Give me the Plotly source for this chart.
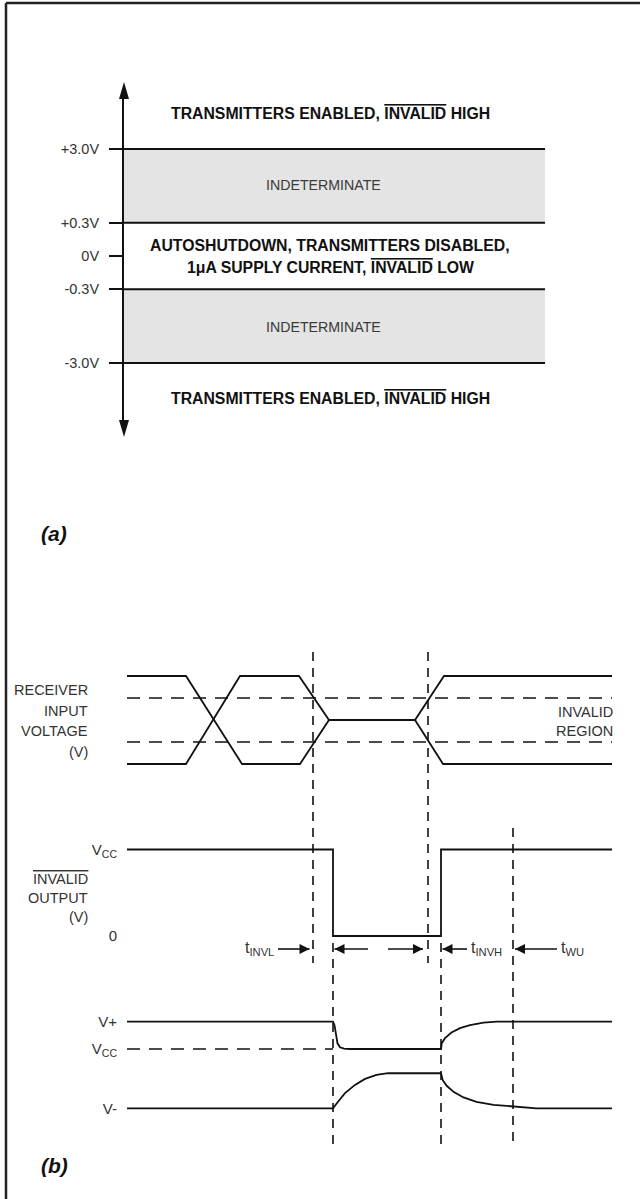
import plotly.graph_objects as go

W, H = 640, 1199

# ---------------- panel (a) data ----------------
threshold_labels = ["+3.0V", "+0.3V", "0V", "-0.3V", "-3.0V"]
threshold_rank = [3, 0.93, 0, -0.93, -3]        # schematic place on the voltage arrow
boundary_rank = [3, 0.93, -0.93, -3]             # drawn boundary lines
indeterminate_bands = [(0.93, 3), (-3, -0.93)]
zone_rank = [4, 2, 0, -2, -4]
OVL = "<span style='text-decoration:overline'>INVALID</span>"
zone_texts = [
    "TRANSMITTERS ENABLED, " + OVL + " HIGH",
    "INDETERMINATE",
    "AUTOSHUTDOWN, TRANSMITTERS DISABLED,<br>1\u03bcA SUPPLY CURRENT, " + OVL + " LOW",
    "INDETERMINATE",
    "TRANSMITTERS ENABLED, " + OVL + " HIGH",
]
zone_bold = [True, False, True, False, True]

# ---------------- panel (b) data ----------------
t_rx_a = [0, 11.8, 23.0, 34.6, 40.4, 57.6, 63.4, 97]
rx_a = [1, 1, -1, -1, 0, 0, 1, 1]
t_rx_b = [0, 11.8, 22.6, 34.4, 40.4, 57.6, 63.2, 97]
rx_b = [-1, -1, 1, 1, 0, 0, -1, -1]
invalid_window = [0.5, -0.5]
rx_label = ["RECEIVER", "INPUT", "VOLTAGE", "(V)"]
region_label = ["INVALID", "REGION"]

t_out = [0, 41.2, 41.2, 62.8, 62.8, 97]
out_level = [1, 1, 0, 0, 1, 1]
out_ticks = [1, 0]
out_ticktext = ["V<sub>CC</sub>", "0"]
out_label = [OVL, "OUTPUT", "(V)"]

t_vplus = [0, 41.2, 41.5, 41.8, 42.1, 42.6, 43.4, 44.4, 62.8, 62.95, 63.6, 64.9,
           66.6, 68.6, 71.3, 73.9, 97]
vplus = [1, 1, 0.92, 0.69, 0.50, 0.41, 0.38, 0.37, 0.37, 0.50, 0.62, 0.75,
         0.85, 0.92, 0.98, 1, 1]
t_vminus = [0, 41.2, 42.2, 43.6, 45.6, 47.6, 49.9, 52.2, 62.8, 63.15, 63.95, 65.3,
            67.3, 69.9, 73.3, 77.1, 79.9, 81.9, 97]
vminus = [-1, -1, -0.85, -0.65, -0.46, -0.32, -0.23, -0.19, -0.19, -0.35, -0.48, -0.62,
          -0.75, -0.85, -0.92, -0.96, -0.99, -1, -1]
vcc_level = 0.37
supply_ticks = [1, vcc_level, -1]
supply_ticktext = ["V+", "V<sub>CC</sub>", "V-"]

t_marks = [37.2, 41.2, 60.2, 62.8, 77.2]
time_labels = ["t<sub>INVL</sub>", "t<sub>INVH</sub>", "t<sub>WU</sub>"]

# ---------------- styling helpers ----------------
INK = "#111111"
TXT = "#333333"
FONT = "Liberation Sans, Arial, Helvetica, sans-serif"
HD = "13px,9px"
VD = "9px,7px"


def fx(px):
    return px / W


def fy(px):
    return 1 - px / H


def y_axis(top_px, bot_px, v_top_px, v_top, v_bot_px, v_bot):
    scale = (v_top - v_bot) / (v_bot_px - v_top_px)
    hi = v_top + (v_top_px - top_px) * scale
    lo = v_bot - (bot_px - v_bot_px) * scale
    return [fy(bot_px), fy(top_px)], [lo, hi]


fig = go.Figure()
shapes = []
annotations = []

# ===== panel (a) =====
A_TOP, A_BOT, A_X = 82, 437, 124        # arrow tips / shaft position (px)
a_dom, a_rng = y_axis(A_TOP + 10, A_BOT - 10, 149, 3, 363, -3)
rank_px = (363 - 149) / 6.0

for r in boundary_rank:
    fig.add_trace(go.Scatter(x=[0, 1], y=[r, r], mode="lines",
                             line=dict(color=INK, width=2), xaxis="x", yaxis="y",
                             hoverinfo="skip"))
for lo, hi in indeterminate_bands:
    shapes.append(dict(type="rect", xref="x", yref="y", x0=0, x1=1, y0=lo, y1=hi,
                       fillcolor="#e4e4e4", line=dict(width=0), layer="below"))

for txt, r, b in zip(zone_texts, zone_rank, zone_bold):
    lines = txt.split("<br>")
    step = 22.0 / rank_px
    for i, ln in enumerate(lines):
        yy = r + step * ((len(lines) - 1) / 2.0 - i)
        annotations.append(dict(
            x=0.49 if b else 0.475, y=yy, xref="x", yref="y",
            text=("<b>%s</b>" % ln) if b else ln,
            showarrow=False, xanchor="center", yanchor="middle",
            font=dict(family=FONT, size=15.8 if b else 14.2, color=INK if b else "#3a3a3a")))

# arrow heads of the voltage axis (paper coordinates, axis decoration)
hw, hl = 5.0 / W, 17.0 / H
x0p = fx(A_X)
shapes.append(dict(type="path", xref="paper", yref="paper",
                   path="M%.5f,%.5f L%.5f,%.5f L%.5f,%.5f Z" % (
                       x0p, fy(A_TOP), x0p - hw, fy(A_TOP) - hl, x0p + hw, fy(A_TOP) - hl),
                   fillcolor=INK, line=dict(width=0)))
shapes.append(dict(type="path", xref="paper", yref="paper",
                   path="M%.5f,%.5f L%.5f,%.5f L%.5f,%.5f Z" % (
                       x0p, fy(A_BOT), x0p - hw, fy(A_BOT) + hl, x0p + hw, fy(A_BOT) + hl),
                   fillcolor=INK, line=dict(width=0)))

annotations.append(dict(x=fx(39), y=fy(533), xref="paper", yref="paper", text="<b><i>(a)</i></b>",
                        showarrow=False, xanchor="left", yanchor="middle",
                        font=dict(family=FONT, size=21, color=INK)))

# ===== panel (b) =====
rx_dom, rx_rng = y_axis(655, 785, 676, 1, 764, -1)
out_dom, out_rng = y_axis(835, 962, 849.5, 1, 936, 0)
sup_dom, sup_rng = y_axis(1005, 1125, 1021.7, 1, 1108.3, -1)

for lvl in invalid_window:
    fig.add_trace(go.Scatter(x=[t_rx_a[0], t_rx_a[-1]], y=[lvl, lvl], mode="lines",
                             line=dict(color=INK, width=1.6, dash=HD),
                             xaxis="x2", yaxis="y2", hoverinfo="skip"))
for tt, vv in ((t_rx_a, rx_a), (t_rx_b, rx_b)):
    fig.add_trace(go.Scatter(x=tt, y=vv, mode="lines", line=dict(color=INK, width=1.8),
                             xaxis="x2", yaxis="y2", hoverinfo="skip"))
fig.add_trace(go.Scatter(x=t_out, y=out_level, mode="lines", line=dict(color=INK, width=1.8),
                         xaxis="x2", yaxis="y3", hoverinfo="skip"))
fig.add_trace(go.Scatter(x=[0, t_marks[1]], y=[vcc_level, vcc_level], mode="lines",
                         line=dict(color=INK, width=1.6, dash=HD),
                         xaxis="x2", yaxis="y4", hoverinfo="skip"))
for tt, vv in ((t_vplus, vplus), (t_vminus, vminus)):
    fig.add_trace(go.Scatter(x=tt, y=vv, mode="lines", line=dict(color=INK, width=1.8),
                             xaxis="x2", yaxis="y4", hoverinfo="skip"))

mark_spans = [(652, 963), (943, 1145), (652, 963), (943, 1145), (828, 1145)]
for t, (p0, p1) in zip(t_marks, mark_spans):
    shapes.append(dict(type="line", xref="x2", yref="paper", x0=t, x1=t, y0=fy(p0), y1=fy(p1),
                       line=dict(color=INK, width=1.6, dash=VD)))

# timing arrows row (in output-axis units, just below the 0 level)
row = (936 - 949) / 86.5
timing_arrows = [  # (tip, tail, symbol)
    (t_marks[0] - 0.7, t_marks[0] - 7.0, "arrow-right"),
    (t_marks[1] + 0.3, t_marks[1] + 7.0, "arrow-left"),
    (t_marks[2] - 1.0, t_marks[2] - 8.0, "arrow-right"),
    (t_marks[3] + 0.3, t_marks[3] + 5.2, "arrow-left"),
    (t_marks[4] + 0.4, t_marks[4] + 8.8, "arrow-left"),
]
for tip, tail, sym in timing_arrows:
    fig.add_trace(go.Scatter(x=[tail, tip], y=[row, row], mode="lines",
                             line=dict(color=INK, width=1.6), xaxis="x2", yaxis="y3",
                             hoverinfo="skip", cliponaxis=False))
    fig.add_trace(go.Scatter(x=[tip], y=[row], mode="markers",
                             marker=dict(symbol=sym, size=10, color=INK, line=dict(width=0)),
                             xaxis="x2", yaxis="y3", hoverinfo="skip", cliponaxis=False))

label_pos = [(timing_arrows[0][1] - 0.5, "right"),
             (timing_arrows[3][1] + 0.4, "left"),
             (timing_arrows[4][1] + 0.4, "left")]
for txt, (t, anc) in zip(time_labels, label_pos):
    annotations.append(dict(x=t, y=row, xref="x2", yref="y3", text=txt, showarrow=False,
                            xanchor=anc, yanchor="middle", yshift=1,
                            font=dict(family=FONT, size=16, color=TXT)))


def stack(lines, x_px, y0_px, step, anchor="right"):
    for i, ln in enumerate(lines):
        annotations.append(dict(x=fx(x_px), y=fy(y0_px + i * step), xref="paper", yref="paper",
                                text=ln, showarrow=False, xanchor=anchor, yanchor="middle",
                                font=dict(family=FONT, size=14.5, color=TXT)))


stack(rx_label, 90, 690, 20.7)
stack(region_label, 615, 712, 19)
stack(out_label, 90, 879, 19)

annotations.append(dict(x=fx(39), y=fy(1165), xref="paper", yref="paper", text="<b><i>(b)</i></b>",
                        showarrow=False, xanchor="left", yanchor="middle",
                        font=dict(family=FONT, size=21, color=INK)))

# frame (left and top edges)
shapes.append(dict(type="line", xref="paper", yref="paper", x0=fx(6), x1=fx(6), y0=fy(3), y1=0,
                   line=dict(color="#222222", width=2.5)))
shapes.append(dict(type="line", xref="paper", yref="paper", x0=fx(6), x1=1, y0=fy(3), y1=fy(3),
                   line=dict(color="#222222", width=2.5)))

hidden = dict(visible=False, showgrid=False, zeroline=False, fixedrange=True)
lvl_axis = dict(showgrid=False, zeroline=False, showline=False, ticks="",
                tickfont=dict(family=FONT, size=15, color=TXT), ticklabelstandoff=9,
                fixedrange=True)

fig.update_layout(
    width=W, height=H, margin=dict(l=0, r=0, t=0, b=0),
    paper_bgcolor="white", plot_bgcolor="rgba(0,0,0,0)", showlegend=False,
    xaxis=dict(domain=[fx(A_X), fx(545)], range=[0, 1], anchor="y", **hidden),
    yaxis=dict(domain=a_dom, range=a_rng, anchor="x", showgrid=False, zeroline=False,
               showline=True, linecolor=INK, linewidth=2, ticks="outside", ticklen=13,
               tickwidth=2, tickcolor=INK, tickvals=threshold_rank, ticktext=threshold_labels,
               tickfont=dict(family=FONT, size=14.5, color=TXT), ticklabelstandoff=7,
               fixedrange=True),
    xaxis2=dict(domain=[fx(127), fx(612)], range=[0, 97], anchor="y2", **hidden),
    yaxis2=dict(domain=rx_dom, range=rx_rng, anchor="x2", **hidden),
    yaxis3=dict(domain=out_dom, range=out_rng, anchor="x2", tickvals=out_ticks,
                ticktext=out_ticktext, **lvl_axis),
    yaxis4=dict(domain=sup_dom, range=sup_rng, anchor="x2", tickvals=supply_ticks,
                ticktext=supply_ticktext, **lvl_axis),
    shapes=shapes, annotations=annotations,
)

fig.write_html("out.html", config={"displayModeBar": False, "staticPlot": True},
               post_script="document.body.style.margin='0px';")
